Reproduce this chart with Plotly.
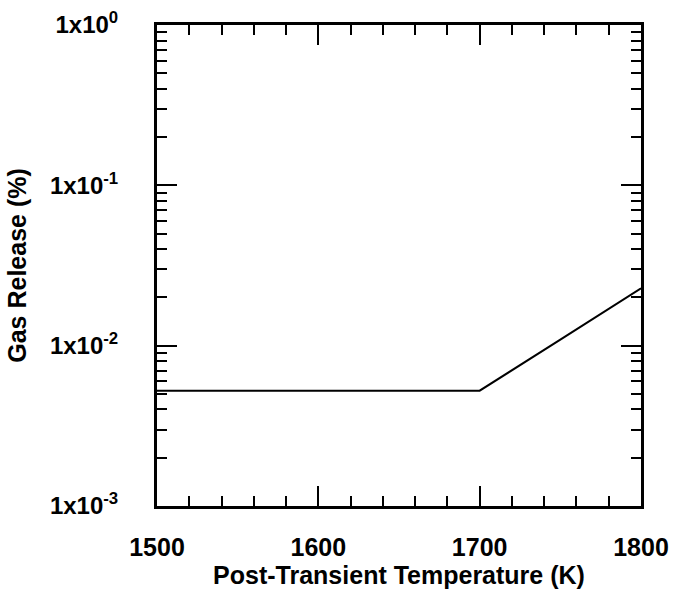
import plotly.graph_objects as go

temperature = [1500, 1600, 1700, 1750, 1800]
gas_release = [0.00524, 0.00524, 0.00524, 0.0109, 0.0228]

y_tickvals = [1e-3, 1e-2, 1e-1, 1e0]
y_ticktext = ["1x10<sup>-3</sup>", "1x10<sup>-2</sup>", "1x10<sup>-1</sup>", "1x10<sup>0</sup>"]
x_tickvals = [1500, 1600, 1700, 1800]
x_ticktext = ["1500", "1600", "1700", "1800"]

y_minor = [m * 10.0 ** e for e in (-3, -2, -1) for m in range(2, 10)]

FAM = "Liberation Sans, Arial"

fig = go.Figure()
fig.add_trace(go.Scatter(x=temperature, y=gas_release, mode="lines",
                         line=dict(color="black", width=2), showlegend=False))

fig.update_layout(
    width=682, height=591,
    margin=dict(l=157, r=41, t=25, b=85, autoexpand=False),
    paper_bgcolor="white", plot_bgcolor="white",
    font=dict(family=FAM, size=24, color="black"),
    xaxis=dict(range=[1500, 1800], tickvals=x_tickvals, ticktext=x_ticktext,
               ticks="inside", ticklen=20, tickwidth=2, tickcolor="black",
               showline=True, linewidth=3, linecolor="black", mirror="allticks",
               showgrid=False, zeroline=False, ticklabelstandoff=17, automargin=False,
               tickfont=dict(family=FAM, size=25, color="black", weight="bold"),
               minor=dict(dtick=20, ticks="inside", ticklen=10, tickwidth=2, tickcolor="black", showgrid=False),
               title=dict(text="Post-Transient Temperature (K)", standoff=6,
                          font=dict(family=FAM, size=25, color="black", weight="bold"))),
    yaxis=dict(type="log", range=[-3, 0], tickvals=y_tickvals, ticktext=y_ticktext,
               ticks="inside", ticklen=20, tickwidth=2, tickcolor="black",
               showline=True, linewidth=3, linecolor="black", mirror="allticks",
               showgrid=False, zeroline=False, ticklabelstandoff=31, automargin=False,
               tickfont=dict(family=FAM, size=24, color="black", weight="bold"),
               minor=dict(tickvals=y_minor, ticks="inside", ticklen=10, tickwidth=2, tickcolor="black", showgrid=False),
               title=dict(text="Gas Release (%)", standoff=17,
                          font=dict(family=FAM, size=25, color="black", weight="bold"))),
)
fig.write_html("out.html")
